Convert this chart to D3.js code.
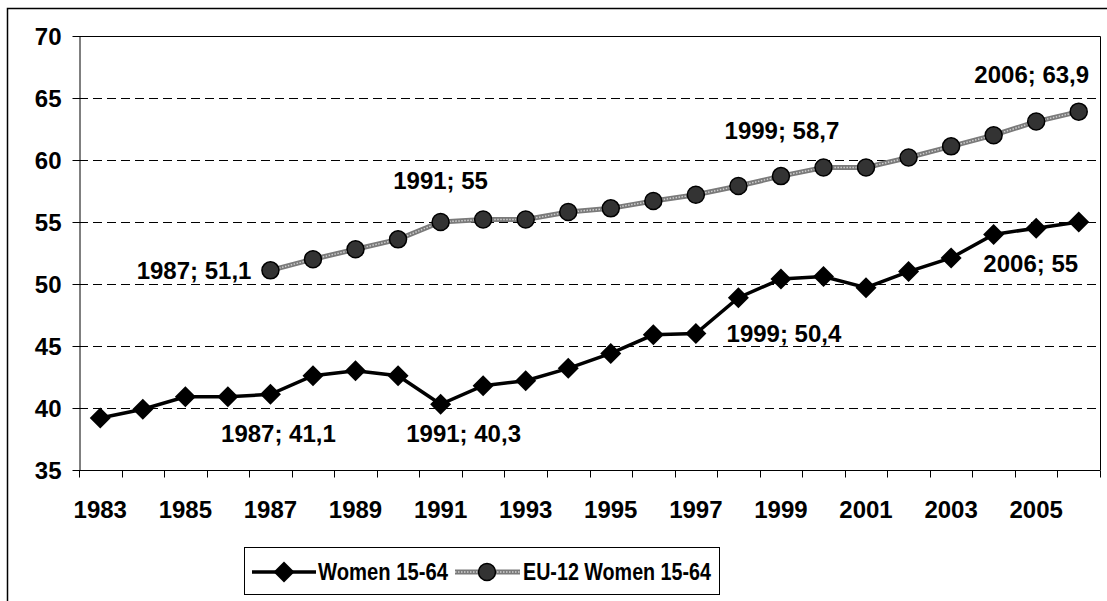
<!DOCTYPE html>
<html lang="en">
<head>
<meta charset="utf-8">
<title>Women 15-64 employment rate</title>
<script src="https://cdn.jsdelivr.net/npm/d3@7"></script>
<style>
  body { margin: 0; background: #fff; }
  text { font-family: "Liberation Sans", Arial, sans-serif; font-weight: bold; fill: #000; }
</style>
</head>
<body>
<script>
  // categories and series
  var years = [1983, 1984, 1985, 1986, 1987, 1988, 1989, 1990, 1991, 1992, 1993, 1994,
               1995, 1996, 1997, 1998, 1999, 2000, 2001, 2002, 2003, 2004, 2005, 2006];
  var women = [39.2, 39.9, 40.9, 40.9, 41.1, 42.6, 43.0, 42.6, 40.3, 41.8, 42.2, 43.2,
               44.4, 45.9, 46.0, 48.9, 50.4, 50.6, 49.7, 51.0, 52.1, 54.0, 54.5, 55.0];
  var eu12 = [null, null, null, null, 51.1, 52.0, 52.8, 53.6, 55.0, 55.2, 55.2, 55.8,
              56.1, 56.7, 57.2, 57.9, 58.7, 59.4, 59.4, 60.2, 61.1, 62.0, 63.1, 63.9];
  var yTicks = [35, 40, 45, 50, 55, 60, 65, 70];
  var xLabels = [1983, 1985, 1987, 1989, 1991, 1993, 1995, 1997, 1999, 2001, 2003, 2005];
  var seriesNames = ["Women 15-64", "EU-12 Women 15-64"];
  var labelYears = [1987, 1991, 1999, 2006];

  var W = 1107, H = 601;
  var plot = { left: 79, right: 1100, top: 36, bottom: 470 };

  var svg = d3.select("body").append("svg")
              .attr("width", W).attr("height", H);

  // outer chart border
  svg.append("rect")
     .attr("x", 7.5).attr("y", 8.5)
     .attr("width", W + 10).attr("height", H + 10)
     .attr("fill", "none").attr("stroke", "#000").attr("stroke-width", 1.5);

  var x = d3.scaleBand().domain(years).range([plot.left, plot.right]).padding(0);
  var y = d3.scaleLinear().domain([35, 70]).range([plot.bottom, plot.top]);
  var cx = function(yr) { return x(yr) + x.bandwidth() / 2; };

  // dashed gridlines
  svg.append("g")
     .selectAll("line")
     .data(yTicks.filter(function(t) { return t > 35 && t < 70; }))
     .enter().append("line")
     .attr("x1", plot.left).attr("x2", plot.right)
     .attr("y1", function(d) { return Math.round(y(d)) + 0.5; })
     .attr("y2", function(d) { return Math.round(y(d)) + 0.5; })
     .attr("stroke", "#000").attr("stroke-dasharray", "9,5");

  // plot area top/right border
  svg.append("path")
     .attr("d", "M" + plot.left + "," + (plot.top + 0.5) + "H" + (plot.right + 0.5) + "V" + plot.bottom)
     .attr("fill", "none").attr("stroke", "#000");

  // y axis
  var yAxis = svg.append("g")
     .attr("transform", "translate(" + (plot.left + 0.5) + ",0)")
     .call(d3.axisLeft(y).tickValues(yTicks).tickSize(7).tickPadding(11).tickSizeOuter(0));
  yAxis.selectAll("text").style("font-size", "24px").attr("dy", "0.36em");

  // x axis: ticks on category boundaries, labels every second year
  var xAxis = svg.append("g").attr("transform", "translate(0," + (plot.bottom + 0.5) + ")");
  xAxis.append("line")
       .attr("x1", plot.left).attr("x2", plot.right + 0.5)
       .attr("stroke", "#000");
  xAxis.selectAll("line.tick")
       .data(years.concat([null]))
       .enter().append("line").attr("class", "tick")
       .attr("x1", function(d, i) { return Math.round(plot.left + i * x.bandwidth()) + 0.5; })
       .attr("x2", function(d, i) { return Math.round(plot.left + i * x.bandwidth()) + 0.5; })
       .attr("y1", 0).attr("y2", 7)
       .attr("stroke", "#000");
  xAxis.selectAll("text")
       .data(xLabels)
       .enter().append("text")
       .attr("x", function(d) { return cx(d); })
       .attr("y", 47)
       .attr("text-anchor", "middle")
       .style("font-size", "24px")
       .text(function(d) { return d; });

  var line = d3.line()
               .defined(function(d) { return d[1] != null; })
               .x(function(d) { return cx(d[0]); })
               .y(function(d) { return y(d[1]); });

  var womenPts = years.map(function(yr, i) { return [yr, women[i]]; });
  var euPts = years.map(function(yr, i) { return [yr, eu12[i]]; });

  var diamond = function(s) { return "M0,-" + s + "L" + s + ",0L0," + s + "L-" + s + ",0Z"; };

  // EU-12 series: textured grey line with dark circles
  svg.append("path").datum(euPts).attr("d", line)
     .attr("fill", "none").attr("stroke", "#7a7a7a").attr("stroke-width", 5);
  svg.append("path").datum(euPts).attr("d", line)
     .attr("fill", "none").attr("stroke", "#cfcfcf").attr("stroke-width", 1.5)
     .attr("stroke-dasharray", "1.5,1.5");
  svg.append("g").selectAll("circle")
     .data(euPts.filter(function(d) { return d[1] != null; }))
     .enter().append("circle")
     .attr("cx", function(d) { return cx(d[0]); })
     .attr("cy", function(d) { return y(d[1]); })
     .attr("r", 8.5)
     .attr("fill", "#333").attr("stroke", "#000").attr("stroke-width", 1.5);

  // Women series: black line with diamonds
  svg.append("path").datum(womenPts).attr("d", line)
     .attr("fill", "none").attr("stroke", "#000").attr("stroke-width", 3.5);
  svg.append("g").selectAll("path")
     .data(womenPts)
     .enter().append("path")
     .attr("d", diamond(10.5))
     .attr("transform", function(d) { return "translate(" + cx(d[0]) + "," + y(d[1]) + ")"; })
     .attr("fill", "#000");

  // data labels
  var fmt = function(v) { return String(v).replace(".", ","); };
  var placeWomen = { 1987: [8, 39], 1991: [23, 29], 1999: [3, 54], 2006: [-48, 41] };
  var placeEu = { 1987: [-19, 0, "end"], 1991: [0, -42], 1999: [1, -46], 2006: [-47, -37] };
  var labels = [];
  labelYears.forEach(function(yr) {
    var i = years.indexOf(yr);
    labels.push({ yr: yr, v: women[i], p: placeWomen[yr] });
    labels.push({ yr: yr, v: eu12[i], p: placeEu[yr] });
  });
  svg.append("g").selectAll("text")
     .data(labels)
     .enter().append("text")
     .attr("x", function(d) { return cx(d.yr) + d.p[0]; })
     .attr("y", function(d) { return y(d.v) + d.p[1]; })
     .attr("dy", "0.36em")
     .attr("text-anchor", function(d) { return d.p[2] || "middle"; })
     .style("font-size", "24px")
     .text(function(d) { return d.yr + "; " + fmt(d.v); });

  // legend
  var lg = svg.append("g");
  lg.append("rect")
    .attr("x", 244.5).attr("y", 547.5).attr("width", 475).attr("height", 47)
    .attr("fill", "#fff").attr("stroke", "#000");
  var ly = 572;
  lg.append("line").attr("x1", 252).attr("x2", 316).attr("y1", ly).attr("y2", ly)
    .attr("stroke", "#000").attr("stroke-width", 3.5);
  lg.append("path").attr("d", diamond(10.5)).attr("transform", "translate(284," + ly + ")");
  lg.append("text").attr("x", 318).attr("y", ly).attr("dy", "0.36em")
    .attr("textLength", 130).attr("lengthAdjust", "spacingAndGlyphs")
    .style("font-size", "23px").text(seriesNames[0]);
  lg.append("line").attr("x1", 455).attr("x2", 520).attr("y1", ly).attr("y2", ly)
    .attr("stroke", "#7a7a7a").attr("stroke-width", 5);
  lg.append("line").attr("x1", 455).attr("x2", 520).attr("y1", ly).attr("y2", ly)
    .attr("stroke", "#cfcfcf").attr("stroke-width", 1.5).attr("stroke-dasharray", "1.5,1.5");
  lg.append("circle").attr("cx", 487).attr("cy", ly).attr("r", 8.5)
    .attr("fill", "#333").attr("stroke", "#000").attr("stroke-width", 1.5);
  lg.append("text").attr("x", 523).attr("y", ly).attr("dy", "0.36em")
    .attr("textLength", 188).attr("lengthAdjust", "spacingAndGlyphs")
    .style("font-size", "23px").text(seriesNames[1]);
</script>
</body>
</html>
